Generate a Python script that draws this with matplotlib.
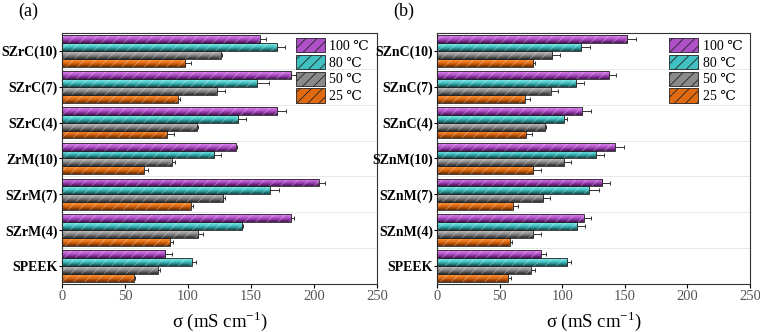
import numpy as np
import matplotlib
matplotlib.use("Agg")
import matplotlib.pyplot as plt
from matplotlib.patches import Patch
from matplotlib.colors import LinearSegmentedColormap

plt.rcParams['font.family'] = ['Liberation Serif', 'DejaVu Serif']
plt.rcParams['hatch.linewidth'] = 0.6

temps = ['100 ℃', '80 ℃', '50 ℃', '25 ℃']

cats_a = ['SPEEK', 'SZrM(4)', 'SZrM(7)', 'ZrM(10)', 'SZrC(4)', 'SZrC(7)', 'SZrC(10)']
a_100 = [82, 182, 204, 138, 171, 182, 157]
a_80 = [103, 143, 165, 121, 140, 155, 171]
a_50 = [76, 108, 128, 87, 107, 123, 126]
a_25 = [57, 86, 102, 65, 83, 92, 98]
a_err_100 = [5, 2, 5, 1, 7, 4, 5]
a_err_80 = [3, 1, 7, 5, 6, 9, 6]
a_err_50 = [2, 4, 1, 3, 1, 6, 1]
a_err_25 = [1, 2, 2, 3, 6, 2, 4]

cats_b = ['SPEEK', 'SZnM(4)', 'SZnM(7)', 'SZnM(10)', 'SZnC(4)', 'SZnC(7)', 'SZnC(10)']
b_100 = [83, 117, 132, 142, 116, 137, 152]
b_80 = [104, 112, 121, 127, 101, 111, 115]
b_50 = [75, 77, 85, 101, 86, 91, 92]
b_25 = [57, 58, 61, 77, 71, 70, 77]
b_err_100 = [4, 6, 6, 7, 7, 6, 7]
b_err_80 = [3, 6, 8, 6, 3, 6, 7]
b_err_50 = [3, 6, 5, 6, 1, 6, 6]
b_err_25 = [2, 2, 4, 6, 5, 4, 1]

xticks = [0, 50, 100, 150, 200, 250]

grads = [('#e58af0', '#b050c8', '#4a0f5a'),
         ('#8ff0f0', '#40c0c0', '#0f4848'),
         ('#c8c8c8', '#8a8a8a', '#2a2a2a'),
         ('#ff9a40', '#e06a10', '#6a2a00')]
mids = [g[1] for g in grads]

fig = plt.figure(figsize=(7.6, 3.32), dpi=100)
ax_a = fig.add_axes([0.0816, 0.1446, 0.4144, 0.756])
ax_b = fig.add_axes([0.575, 0.1446, 0.412, 0.756])

bar_h = 0.22
offsets = [1.5 * bar_h, 0.5 * bar_h, -0.5 * bar_h, -1.5 * bar_h]


def draw(ax, cats, series, errs, label):
    y = np.arange(len(cats))
    for i, (vals, err) in enumerate(zip(series, errs)):
        cmap = LinearSegmentedColormap.from_list('g%d' % i, list(grads[i]))
        bars = ax.barh(y + offsets[i], vals, height=bar_h, color='none',
                       edgecolor='none', zorder=2)
        for p in bars.patches:
            x0, y0 = p.get_x(), p.get_y()
            w, h = p.get_width(), p.get_height()
            grad = np.linspace(0, 1, 50).reshape(-1, 1)
            im = ax.imshow(grad, extent=[x0, x0 + w, y0, y0 + h], origin='lower',
                           cmap=cmap.reversed(), aspect='auto', zorder=2,
                           interpolation='bilinear')
            im.set_clip_path(p)
        ax.barh(y + offsets[i], vals, height=bar_h, color='none',
                edgecolor=(1, 1, 1, 0.35), hatch='///', linewidth=0, zorder=3)
        ax.barh(y + offsets[i], vals, height=bar_h, color='none',
                edgecolor='#222222', linewidth=0.6, zorder=4)
        ax.errorbar(vals, y + offsets[i], xerr=[np.zeros(len(err)), err], fmt='none',
                    ecolor='#333333', elinewidth=0.7, capsize=1.5, capthick=0.7,
                    zorder=5)
    for b in np.arange(len(cats) - 1) + 0.5:
        ax.axhline(b, color='#e4e4e4', linewidth=0.6, zorder=1)
    ax.set_xlim(0, 250)
    ax.set_ylim(-0.5, len(cats) - 0.5)
    ax.set_xticks(xticks)
    ax.set_xticklabels([str(t) for t in xticks], fontsize=10.5, color='#555555')
    ax.set_yticks(y)
    ax.set_yticklabels(cats, fontsize=10, fontweight='bold')
    ax.tick_params(axis='y', length=2, pad=1)
    ax.tick_params(axis='x', length=3, pad=1)
    for s in ax.spines.values():
        s.set_linewidth(0.8)
        s.set_color('#333333')
    ax.set_xlabel(r'σ (mS cm$^{\mathregular{-1}}$)', fontsize=13.5, labelpad=5)
    handles = [Patch(facecolor=mids[i], edgecolor='#222222', hatch='///', linewidth=0.6)
               for i in range(4)]
    leg = ax.legend(handles, temps, loc='upper right', frameon=False, fontsize=10,
                    handlelength=2.1, handleheight=1.2, handletextpad=0.3,
                    labelspacing=0.14, borderaxespad=0.0, borderpad=0.0,
                    bbox_to_anchor=(0.975, 0.98))
    leg.set_zorder(10)
    ax.text(-0.14, 1.05, label, transform=ax.transAxes, fontsize=13,
            ha='left', va='bottom')


draw(ax_a, cats_a, [a_100, a_80, a_50, a_25], [a_err_100, a_err_80, a_err_50, a_err_25], '(a)')
draw(ax_b, cats_b, [b_100, b_80, b_50, b_25], [b_err_100, b_err_80, b_err_50, b_err_25], '(b)')

fig.savefig('out.png', dpi=100)
